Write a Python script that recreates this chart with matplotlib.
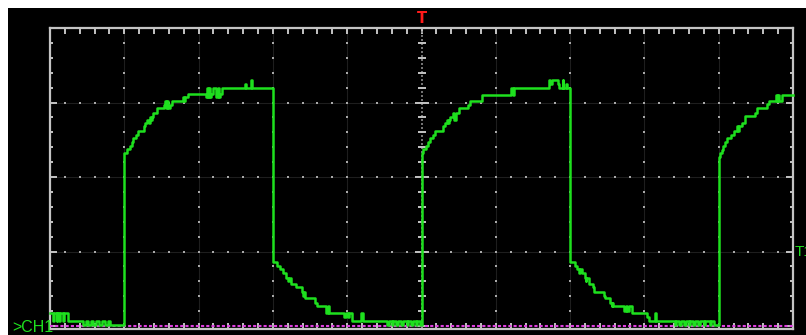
import matplotlib
matplotlib.use('Agg')
import matplotlib.pyplot as plt
from matplotlib.patches import Rectangle
import numpy as np

# CH1 capture in divisions
# time in divisions from the left edge, level in divisions above ground
# (step trace: each level holds until the next time point)
trace_t = [
    0.00, 0.04, 0.06, 0.09, 0.10, 0.12, 0.13, 0.17, 0.19, 0.24,
    0.45, 0.48, 0.51, 0.55, 0.58, 0.62, 0.66, 0.70, 0.74, 0.78, 0.81,
    # rise 1
    1.00, 1.04, 1.07, 1.10, 1.12, 1.16, 1.18, 1.26, 1.28, 1.31, 1.33, 1.34,
    1.36, 1.37, 1.39, 1.44, 1.54, 1.55, 1.56, 1.58, 1.59, 1.61, 1.64, 1.79,
    1.81, 1.82, 1.86, 2.10, 2.11, 2.12, 2.14, 2.15, 2.17, 2.20, 2.24, 2.26,
    2.27, 2.29, 2.32, 2.62, 2.64, 2.70, 2.72,
    # fall 1
    3.00, 3.06, 3.09, 3.14, 3.18, 3.20, 3.21, 3.24, 3.31, 3.39, 3.41, 3.42,
    3.43, 3.57, 3.59, 3.72, 3.74, 3.76, 3.79, 3.96, 3.98, 4.01, 4.03, 4.07,
    4.19, 4.21, 4.54, 4.56, 4.60, 4.62, 4.66, 4.68, 4.72, 4.75, 4.80, 4.82,
    4.86, 4.88, 4.92, 4.94, 4.98,
    # rise 2
    5.00, 5.02, 5.06, 5.09, 5.12, 5.16, 5.18, 5.29, 5.31, 5.34, 5.36, 5.37,
    5.38, 5.43, 5.44, 5.47, 5.50, 5.63, 5.65, 5.81, 6.20, 6.21, 6.23, 6.25,
    6.30, 6.71, 6.73, 6.75, 6.84, 6.85, 6.90, 6.91, 6.94, 6.96,
    # fall 2
    7.00, 7.07, 7.09, 7.12, 7.13, 7.16, 7.20, 7.21, 7.22, 7.25, 7.31, 7.32,
    7.45, 7.47, 7.54, 7.56, 7.57, 7.58, 7.73, 7.75, 7.77, 7.79, 7.83, 8.04,
    8.06, 8.14, 8.16, 8.41, 8.43, 8.47, 8.49, 8.53, 8.56, 8.60, 8.62, 8.66,
    8.68, 8.72, 8.75, 8.80, 8.82, 8.88, 8.90, 8.94,
    # rise 3
    9.00, 9.02, 9.04, 9.06, 9.08, 9.11, 9.17, 9.20, 9.24, 9.26, 9.27, 9.31,
    9.35, 9.49, 9.51, 9.65, 9.68, 9.77, 9.78, 9.80, 9.81, 9.85, 10.0,
]
trace_v = [
    0.17, 0.07, 0.17, 0.07, 0.17, 0.07, 0.17, 0.07, 0.17, 0.07,
    0.02, 0.07, 0.02, 0.07, 0.02, 0.07, 0.02, 0.07, 0.02, 0.07, 0.02,
    # rise 1
    2.32, 2.37, 2.42, 2.47, 2.52, 2.57, 2.62, 2.68, 2.72, 2.77, 2.72, 2.81,
    2.77, 2.81, 2.86, 2.92, 2.97, 3.02, 2.92, 3.02, 2.92, 2.97, 3.02, 3.07,
    3.02, 3.07, 3.11, 3.07, 3.20, 3.07, 3.20, 3.07, 3.11, 3.20, 3.07, 3.20,
    3.07, 3.11, 3.20, 3.25, 3.20, 3.30, 3.20,
    # fall 1
    0.86, 0.81, 0.77, 0.71, 0.65, 0.60, 0.65, 0.57, 0.52, 0.46, 0.40, 0.46,
    0.37, 0.31, 0.27, 0.17, 0.27, 0.17, 0.17, 0.12, 0.17, 0.12, 0.17, 0.07,
    0.17, 0.07, 0.02, 0.07, 0.02, 0.07, 0.02, 0.07, 0.02, 0.07, 0.02, 0.07,
    0.02, 0.07, 0.02, 0.07, 0.02,
    # rise 2
    2.32, 2.37, 2.42, 2.47, 2.52, 2.57, 2.62, 2.68, 2.73, 2.77, 2.73, 2.77,
    2.81, 2.86, 2.77, 2.86, 2.92, 2.97, 3.02, 3.10, 3.15, 3.20, 3.10, 3.20,
    3.20, 3.30, 3.25, 3.30, 3.25, 3.20, 3.30, 3.20, 3.25, 3.20,
    # fall 2
    0.86, 0.81, 0.77, 0.71, 0.77, 0.71, 0.65, 0.60, 0.65, 0.57, 0.52, 0.46,
    0.40, 0.37, 0.31, 0.27, 0.31, 0.27, 0.20, 0.27, 0.20, 0.27, 0.17, 0.12,
    0.07, 0.17, 0.07, 0.02, 0.07, 0.02, 0.07, 0.02, 0.07, 0.02, 0.07, 0.02,
    0.07, 0.02, 0.07, 0.02, 0.07, 0.02, 0.07, 0.02,
    # rise 3
    2.27, 2.32, 2.36, 2.42, 2.47, 2.52, 2.56, 2.62, 2.68, 2.62, 2.68, 2.73,
    2.82, 2.86, 2.92, 2.98, 3.02, 3.10, 3.02, 3.10, 3.02, 3.10, 3.10,
]

n_xdiv = 10
n_ydiv = 4
trigger_pos = 5.0      # red T marker
trigger_level = 1.0    # T1 marker on the right
ground_level = 0.0     # CH1 ground marker

grat_color = '#c4c4c4'
dot_color = '#a8a8a8'
trace_color = '#1ee01e'

fig = plt.figure(figsize=(8.06, 3.35), dpi=100, facecolor='white')
# black screen area (white margin on top and left)
fig.patches.append(Rectangle((8 / 806, 0), 1, 1 - 8 / 335, transform=fig.transFigure,
                             facecolor='black', edgecolor='none', zorder=-10))

ax = fig.add_axes([50 / 806, 6 / 335, 743 / 806, 301 / 335])
ax.set_facecolor('black')
ax.set_xlim(0, n_xdiv)
ax.set_ylim(-0.04, n_ydiv)

# frame + ticks
for sp in ax.spines.values():
    sp.set_color(grat_color)
    sp.set_linewidth(1.6)
ax.set_xticks(np.arange(0, n_xdiv + 1, 1))
ax.set_xticks(np.arange(0, n_xdiv + 0.01, 0.2), minor=True)
ax.set_yticks(np.arange(0, n_ydiv + 1, 1))
ax.set_yticks(np.arange(0, n_ydiv + 0.01, 0.2), minor=True)
ax.tick_params(which='both', direction='in', top=True, right=True,
               colors=grat_color, labelbottom=False, labelleft=False, width=1.4)
ax.tick_params(which='major', length=5)
ax.tick_params(which='minor', length=2.5)
ax.tick_params(axis='x', which='both', bottom=True, length=4.5)

# dotted graticule
sub = np.arange(0, n_ydiv + 0.01, 0.2)
for gx in range(1, n_xdiv):
    if gx == trigger_pos:
        continue
    ax.axvline(gx, color='#1e1e1e', lw=0.8, zorder=1)
    ax.plot(np.full_like(sub, gx), sub, ls='none', marker='s', ms=1.7,
            color=dot_color, mew=0, zorder=2)
subx = np.arange(0, n_xdiv + 0.01, 0.2)
for gy in range(1, n_ydiv):
    ax.axhline(gy, color='#1e1e1e', lw=0.8, zorder=1)
    ax.plot(subx, np.full_like(subx, gy), ls='none', marker='s', ms=1.7,
            color=dot_color, mew=0, zorder=2)

# centre line with its small ticks
ax.axvline(trigger_pos, color='#8a8a8a', lw=1.2, ls=(0, (1.2, 1.2)), zorder=2)
minor_y = [v for v in sub if abs(v - round(v)) > 1e-6]
major_y = np.arange(0, n_ydiv + 1, 1)
ax.plot(np.full(len(minor_y), trigger_pos), minor_y, ls='none', marker='_',
        ms=5.5, mew=1.4, color=grat_color, zorder=3)
ax.plot(np.full(len(major_y), trigger_pos), major_y, ls='none', marker='_',
        ms=9.5, mew=1.4, color=grat_color, zorder=3)

# ground marker
ax.axhline(ground_level, color='#e040e0', lw=1.5, ls=(0, (1.5, 1)), zorder=3)

# trace
ax.plot(trace_t, trace_v, drawstyle='steps-post', color=trace_color, lw=1.8,
        zorder=5, clip_on=False)

# labels
ax.text(trigger_pos, 1.03, 'T', transform=ax.get_xaxis_transform(), color='#ff1a1a',
        ha='center', va='center', fontsize=10.5, fontweight='bold', clip_on=False)
ax.text(1.002, trigger_level, 'T1', transform=ax.get_yaxis_transform(), color=trace_color,
        ha='left', va='center', fontsize=11, family='Liberation Sans', clip_on=False)
fig.text(12 / 806, 1 - 327 / 335, '>CH1', color=trace_color, ha='left', va='center',
         fontsize=11.5, family='Liberation Sans')

fig.savefig('out.png', dpi=100, facecolor='white')
